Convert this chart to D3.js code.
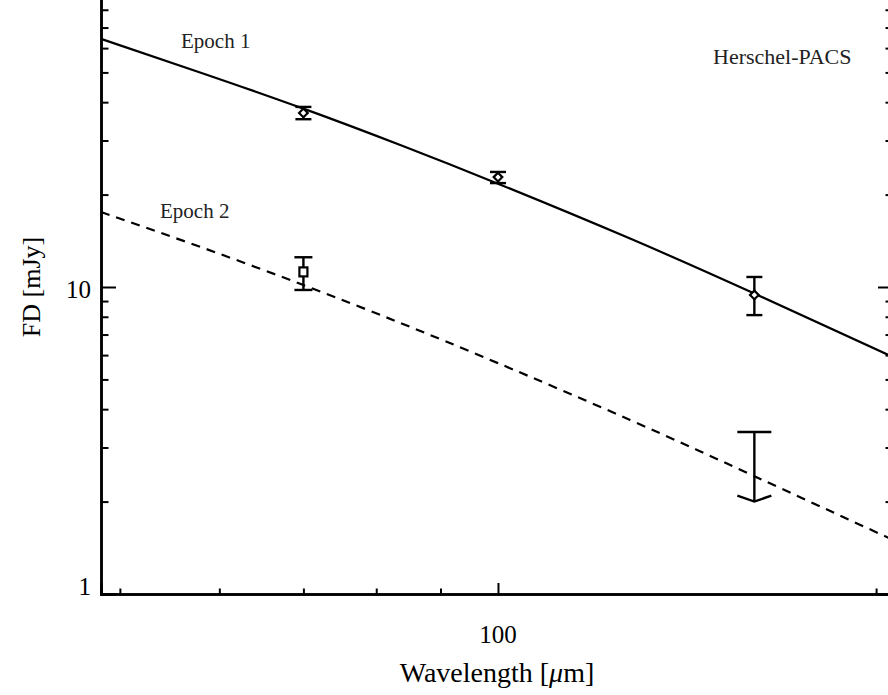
<!DOCTYPE html>
<html>
<head>
<meta charset="utf-8">
<script src="https://cdn.jsdelivr.net/npm/d3@7"></script>
<style>
  body { margin: 0; background: #fff; }
  svg text { font-family: "Liberation Serif", "DejaVu Serif", serif; }
</style>
</head>
<body>
<div id="vis"></div>
<script>
// model curves (wavelength in micron, flux in mJy)
var curveWave   = [48.3, 58, 70, 83.6, 100, 127.4, 160, 206.3];
var epoch1Model = [64.3, 49.9, 38.1, 29.0, 21.7, 14.38, 9.52, 5.91];
var epoch2Model = [17.55, 13.49, 10.15, 7.64, 5.65, 3.69, 2.42, 1.50];

// photometry
var epoch1Wave = [70, 100, 160];
var epoch1Flux = [36.9, 22.8, 9.42];
var epoch1Lo   = [35.2, 21.8, 8.1];
var epoch1Hi   = [38.6, 23.7, 10.78];

var epoch2Wave = [70];
var epoch2Flux = [11.2];
var epoch2Lo   = [9.78];
var epoch2Hi   = [12.5];

// upper limit at 160 micron
var limitWave = [160];
var limitHi   = [3.37];
var limitLo   = [2.0];

var xMajor = [100];
var xMinor = [50, 60, 70, 80, 90, 200];
var yMajor = [1, 10, 100];
var yLabels = [1, 10];
var yMinor = [2, 3, 4, 5, 6, 7, 8, 9, 20, 30, 40, 50, 60, 70, 80, 90];

var width = 888, height = 695;
var plot = { left: 101, right: 893, top: -20, bottom: 594 };

var svg = d3.select("#vis").append("svg")
    .attr("width", width)
    .attr("height", height);

var x = d3.scaleLog()
    .domain([48.3, 206.3])
    .range([plot.left, plot.right]);

var y = d3.scaleLog()
    .domain([1, 100])
    .range([plot.bottom, plot.top]);

// axes
function styleAxis(g) {
    g.select(".domain").attr("stroke", "#000").attr("stroke-width", 2.5);
    g.selectAll(".tick line").attr("stroke", "#000").attr("stroke-width", 2);
}

svg.append("g")
    .attr("transform", "translate(0," + plot.bottom + ")")
    .call(d3.axisTop(x).tickValues(xMinor).tickSize(5.5).tickFormat(""))
    .call(styleAxis);
svg.append("g")
    .attr("transform", "translate(0," + plot.bottom + ")")
    .call(d3.axisTop(x).tickValues(xMajor).tickSize(11).tickFormat(""))
    .call(styleAxis);
svg.append("g")
    .selectAll("text")
    .data(xMajor)
    .enter().append("text")
    .attr("x", function(d) { return x(d); })
    .attr("y", plot.bottom + 49)
    .attr("text-anchor", "middle")
    .attr("font-size", 25)
    .text(function(d) { return d; });

svg.append("g")
    .attr("transform", "translate(" + plot.left + ",0)")
    .call(d3.axisRight(y).tickValues(yMinor).tickSize(7.5).tickFormat(""))
    .call(styleAxis);
svg.append("g")
    .attr("transform", "translate(" + plot.left + ",0)")
    .call(d3.axisRight(y).tickValues(yMajor).tickSize(15).tickFormat(""))
    .call(styleAxis);
svg.append("g")
    .selectAll("text")
    .data(yLabels)
    .enter().append("text")
    .attr("x", plot.left - 10)
    .attr("y", function(d) { return y(d) + (d === 1 ? 1 : 11); })
    .attr("text-anchor", "end")
    .attr("font-size", 25)
    .text(function(d) { return d; });

// mirrored right axis (mostly outside the picture)
svg.append("g")
    .attr("transform", "translate(" + plot.right + ",0)")
    .call(d3.axisLeft(y).tickValues(yMinor).tickSize(7.5).tickFormat(""))
    .call(styleAxis);
svg.append("g")
    .attr("transform", "translate(" + plot.right + ",0)")
    .call(d3.axisLeft(y).tickValues(yMajor).tickSize(15).tickFormat(""))
    .call(styleAxis);

// axis titles
var xTitle = svg.append("text")
    .attr("x", (plot.left + plot.right) / 2)
    .attr("y", 682)
    .attr("text-anchor", "middle")
    .attr("font-size", 28);
xTitle.append("tspan").text("Wavelength [");
xTitle.append("tspan").attr("font-style", "italic").text("\u03bc");
xTitle.append("tspan").text("m]");

svg.append("text")
    .attr("transform", "translate(40," + ((plot.top + plot.bottom) / 2) + ") rotate(-90)")
    .attr("text-anchor", "middle")
    .attr("font-size", 26)
    .text("FD [mJy]");

// model curves
var line = d3.line()
    .x(function(d) { return x(d[0]); })
    .y(function(d) { return y(d[1]); })
    .curve(d3.curveNatural);

svg.append("path")
    .datum(d3.zip(curveWave, epoch1Model))
    .attr("d", line)
    .attr("fill", "none")
    .attr("stroke", "#000")
    .attr("stroke-width", 2.2);

svg.append("path")
    .datum(d3.zip(curveWave, epoch2Model))
    .attr("d", line)
    .attr("fill", "none")
    .attr("stroke", "#000")
    .attr("stroke-width", 2.2)
    .attr("stroke-dasharray", "9,7");

// error bars
function errorBars(wave, lo, hi, capHalf) {
    var g = svg.append("g").attr("stroke", "#000").attr("stroke-width", 2.4);
    wave.forEach(function(w, i) {
        var cx = x(w);
        g.append("line").attr("x1", cx).attr("x2", cx)
            .attr("y1", y(lo[i])).attr("y2", y(hi[i]));
        g.append("line").attr("x1", cx - capHalf).attr("x2", cx + capHalf)
            .attr("y1", y(lo[i])).attr("y2", y(lo[i]));
        g.append("line").attr("x1", cx - capHalf).attr("x2", cx + capHalf)
            .attr("y1", y(hi[i])).attr("y2", y(hi[i]));
    });
}
errorBars(epoch1Wave, epoch1Lo, epoch1Hi, 8);
errorBars(epoch2Wave, epoch2Lo, epoch2Hi, 9);

// diamonds for epoch 1
var diamond = d3.symbol().type(d3.symbolDiamond2).size(48);
svg.append("g")
    .selectAll("path")
    .data(d3.zip(epoch1Wave, epoch1Flux))
    .enter().append("path")
    .attr("transform", function(d) { return "translate(" + x(d[0]) + "," + y(d[1]) + ")"; })
    .attr("d", diamond)
    .attr("fill", "#fff")
    .attr("stroke", "#000")
    .attr("stroke-width", 2.2);

// square for epoch 2
svg.append("g")
    .selectAll("rect")
    .data(d3.zip(epoch2Wave, epoch2Flux))
    .enter().append("rect")
    .attr("x", function(d) { return x(d[0]) - 4; })
    .attr("y", function(d) { return y(d[1]) - 4.5; })
    .attr("width", 8)
    .attr("height", 9)
    .attr("fill", "#fff")
    .attr("stroke", "#000")
    .attr("stroke-width", 2.2);

// upper limit with arrow
var lim = svg.append("g").attr("stroke", "#000").attr("stroke-width", 2.4).attr("fill", "none");
limitWave.forEach(function(w, i) {
    var cx = x(w), top = y(limitHi[i]), bot = y(limitLo[i]);
    lim.append("line").attr("x1", cx).attr("x2", cx).attr("y1", top).attr("y2", bot);
    lim.append("line").attr("x1", cx - 17).attr("x2", cx + 17).attr("y1", top).attr("y2", top);
    lim.append("path").attr("d", "M" + (cx - 17) + "," + (bot - 6) + "L" + cx + "," + bot + "L" + (cx + 17) + "," + (bot - 6));
});

// annotations
svg.append("text").attr("x", 181).attr("y", 48).attr("font-size", 21).attr("fill", "#222").text("Epoch 1");
svg.append("text").attr("x", 160).attr("y", 218).attr("font-size", 21).attr("fill", "#222").text("Epoch 2");
svg.append("text").attr("x", 713).attr("y", 64).attr("font-size", 22).attr("fill", "#222").text("Herschel-PACS");
</script>
</body>
</html>
